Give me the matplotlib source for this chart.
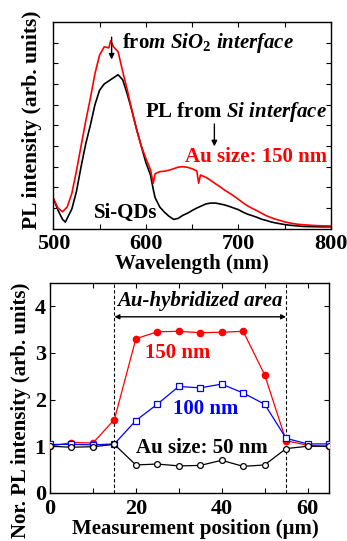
import matplotlib
matplotlib.use("Agg")
import matplotlib.pyplot as plt

# ---------------- data: top panel (PL spectra) ----------------
wl_black = [500, 505, 510, 513, 515, 520, 525, 530, 535, 540, 545, 550, 555, 560, 565, 570,
            575, 580, 585, 590, 595, 600, 605, 608, 610, 615, 620, 625, 630, 635, 640, 645,
            650, 655, 660, 665, 670, 675, 680, 685, 690, 695, 700, 705, 710, 715, 720, 725,
            730, 735, 740, 745, 750, 755, 760, 765, 770, 780, 790, 800]
pl_black = [14.7, 9.0, 4.5, 3.2, 5.0, 9.5, 18, 30, 41, 50, 60, 67, 70, 71.5, 73, 74.5,
            72, 65, 57, 48, 40, 32, 26, 19, 15, 10.5, 8, 6, 4.5, 5, 6.5, 7.5,
            8.8, 10, 11, 12, 12.4, 12.4, 12, 11.5, 10.8, 10, 9.2, 8, 7, 6.3, 5.5, 4.6,
            4, 3.3, 2.8, 2.4, 2, 1.7, 1.5, 1.3, 1.1, 1.0, 0.9, 0.9]

wl_red = [500, 505, 510, 515, 520, 525, 530, 535, 540, 545, 550, 555, 560, 562, 565, 570,
          575, 580, 585, 590, 595, 600, 605, 608, 610, 615, 620, 625, 630, 635, 640, 645,
          650, 655, 657, 659, 665, 670, 675, 680, 685, 690, 695, 700, 705, 710, 715, 720,
          725, 730, 735, 740, 745, 750, 755, 760, 765, 770, 780, 790, 800]
pl_red = [14.7, 10, 8.2, 10.5, 17, 28, 40, 52, 63, 75, 84, 88, 87.5, 91, 88, 85.6,
          76, 67, 57, 48, 40, 34, 28.5, 22, 26.6, 27.6, 27.8, 28.3, 29, 29.8, 30, 29.7,
          29, 28, 22, 26, 24.8, 23.4, 21.8, 20.3, 18.7, 17.3, 15.8, 14.2, 12.5, 11, 9.8, 8.7,
          7.5, 6.3, 5.4, 4.6, 4, 3.3, 2.8, 2.4, 2.1, 1.9, 1.6, 1.4, 1.3]

top_xticks = [500, 600, 700, 800]

# ---------------- data: bottom panel (normalized PL vs position) ----------------
position = [0, 5, 10, 15, 20, 25, 30, 35, 40, 45, 50, 55, 60, 65]
nor_150 = [1.0, 1.08, 1.07, 1.57, 3.30, 3.45, 3.46, 3.43, 3.44, 3.46, 2.53, 1.12, 1.02, 1.0]
nor_100 = [1.04, 1.04, 1.03, 1.05, 1.55, 1.90, 2.28, 2.25, 2.33, 2.14, 1.90, 1.17, 1.05, 1.05]
nor_50 = [1.0, 0.98, 0.99, 1.04, 0.60, 0.62, 0.58, 0.59, 0.70, 0.57, 0.60, 0.95, 1.0, 1.0]
area_edges = [15, 55]
bot_xticks = [0, 20, 40, 60]
bot_yticks = [0, 1, 2, 3, 4]

# ---------------- style ----------------
SERIF = "Liberation Serif"
plt.rcParams["font.family"] = [SERIF, "DejaVu Serif"]
plt.rcParams["font.weight"] = "bold"
plt.rcParams["mathtext.fontset"] = "custom"
plt.rcParams["mathtext.rm"] = SERIF + ":bold"
plt.rcParams["mathtext.it"] = SERIF + ":italic:bold"
plt.rcParams["mathtext.bf"] = SERIF + ":bold"

W, H = 347, 541
fig = plt.figure(figsize=(W / 100, H / 100), dpi=100)


def ax_rect(l, r, t, b):
    return [l / W, 1 - b / H, (r - l) / W, (b - t) / H]


# ---------------- top panel ----------------
ax1 = fig.add_axes(ax_rect(53.3, 331, 22, 228.7))
ax1.plot(wl_black, pl_black, color="black", lw=1.2)
ax1.plot(wl_red, pl_red, color="red", lw=1.2)
ax1.set_xlim(500, 800)
ax1.set_ylim(0, 100)
ax1.set_xticks(top_xticks)
ax1.set_xticks([550, 650, 750], minor=True)
ax1.set_yticks(list(range(10, 100, 10)))
ax1.set_yticklabels([])
ax1.tick_params(axis="both", which="both", direction="in", top=True, right=True,
                width=0.8, length=3.5)
ax1.tick_params(axis="x", which="major", labelsize=16, pad=4)
for lab in ax1.get_xticklabels():
    lab.set_fontweight("bold")
for s in ax1.spines.values():
    s.set_linewidth(1.0)

ax1.annotate("", xy=(563, 80.5), xytext=(563, 94),
             arrowprops=dict(arrowstyle="-|>", color="black", lw=1.0, mutation_scale=8))
ax1.text(574, 87.3, r"fro$\mathit{m\ SiO_2\ interface}$", fontsize=15, fontweight="bold",
         ha="left", va="baseline")
ax1.text(599, 54.2, r"PL from $\mathit{Si\ interface}$", fontsize=15, fontweight="bold",
         ha="left", va="baseline")
ax1.annotate("", xy=(674, 38.5), xytext=(674, 52),
             arrowprops=dict(arrowstyle="-|>", color="black", lw=1.0, mutation_scale=8))
ax1.text(642, 32.4, "Au size: 150 nm", color="red", fontsize=15, fontweight="bold",
         ha="left", va="baseline")
ax1.text(544, 5.0, "Si-QDs", color="black", fontsize=15, fontweight="bold",
         ha="left", va="baseline")

fig.text(191.5 / W, 1 - 264 / H, "Wavelength (nm)", fontsize=15, fontweight="bold",
         ha="center", va="center")
fig.text(32 / W, 1 - 120 / H, "PL intensity (arb. units)", fontsize=15.5, fontweight="bold",
         ha="center", va="center", rotation=90)

# ---------------- bottom panel ----------------
ax2 = fig.add_axes(ax_rect(50, 329, 282.7, 493))
ax2.plot(position, nor_150, color="red", lw=0.9, marker="o", ms=4.5,
         mfc="red", mec="red", zorder=3)
ax2.plot(position, nor_100, color="blue", lw=0.9, marker="s", ms=3.8,
         mfc="white", mec="blue", mew=0.9, zorder=3)
ax2.plot(position, nor_50, color="black", lw=0.9, marker="o", ms=4.2,
         mfc="white", mec="black", mew=0.9, zorder=3)
for xe in area_edges:
    ax2.axvline(xe, color="black", lw=0.8, ls=(0, (3, 2)), zorder=1)
ax2.annotate("", xy=(area_edges[0], 3.77), xytext=(area_edges[1], 3.77),
             arrowprops=dict(arrowstyle="<|-|>", color="black", lw=1.0,
                             mutation_scale=7, shrinkA=0, shrinkB=0))
ax2.text(15.6, 4.0, "Au-hybridized area", fontsize=15, fontweight="bold",
         fontstyle="italic", ha="left", va="baseline")
ax2.text(22.1, 2.88, "150 nm", color="red", fontsize=15, fontweight="bold",
         ha="left", va="baseline")
ax2.text(28.7, 1.68, "100 nm", color="blue", fontsize=15, fontweight="bold",
         ha="left", va="baseline")
ax2.text(20.0, 0.86, "Au size: 50 nm", color="black", fontsize=15, fontweight="bold",
         ha="left", va="baseline")

ax2.set_xlim(0, 65)
ax2.set_ylim(0, 4.5)
ax2.set_xticks(bot_xticks)
ax2.set_xticks([10, 30, 50], minor=True)
ax2.set_yticks(bot_yticks)
ax2.tick_params(axis="both", which="both", direction="in", top=True, right=True,
                width=0.8, length=3.5, labelsize=16)
ax2.tick_params(axis="x", pad=4)
ax2.tick_params(axis="y", pad=3)
for lab in ax2.get_xticklabels() + ax2.get_yticklabels():
    lab.set_fontweight("bold")
for s in ax2.spines.values():
    s.set_linewidth(1.0)

fig.text(195 / W, 1 - 529 / H, "Measurement position (μm)", fontsize=15, fontweight="bold",
         ha="center", va="center")
fig.text(21 / W, 1 - 410 / H, "Nor. PL intensity (arb. units)", fontsize=15, fontweight="bold",
         ha="center", va="center", rotation=90)

fig.savefig("out.png", dpi=100)
